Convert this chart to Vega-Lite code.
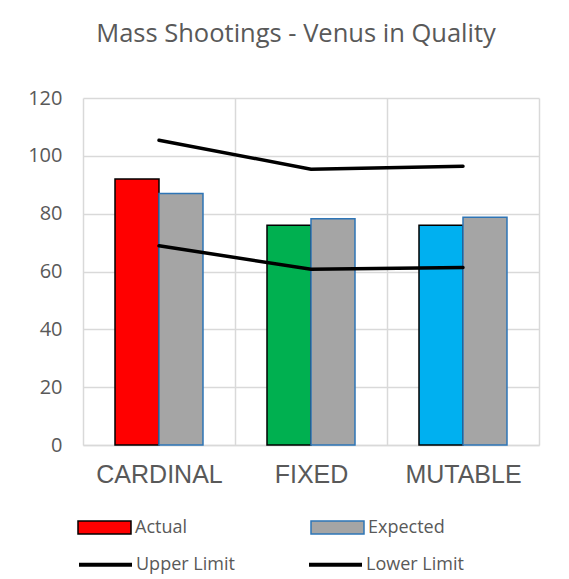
{
  "$schema": "https://vega.github.io/schema/vega-lite/v6.json",
  "autosize": {"type": "none"},
  "width": 456,
  "height": 347,
  "padding": {"left": 83, "top": 98, "right": 30, "bottom": 134},
  "background": "white",
  "title": {"text": "Mass Shootings - Venus in Quality", "font": "Open Sans", "fontSize": 25.5, "fontWeight": "normal", "color": "#595959", "anchor": "middle", "offset": 41, "dx": -15},
  "datasets": {
    "bars": [
      {"cat": "CARDINAL", "series": "Actual", "value": 92},
      {"cat": "CARDINAL", "series": "Expected", "value": 87},
      {"cat": "FIXED", "series": "Actual", "value": 76},
      {"cat": "FIXED", "series": "Expected", "value": 78.2},
      {"cat": "MUTABLE", "series": "Actual", "value": 76},
      {"cat": "MUTABLE", "series": "Expected", "value": 78.8}
    ],
    "limits": [
      {"cat": "CARDINAL", "limit": "Upper Limit", "value": 105.4},
      {"cat": "FIXED", "limit": "Upper Limit", "value": 95.4},
      {"cat": "MUTABLE", "limit": "Upper Limit", "value": 96.4},
      {"cat": "CARDINAL", "limit": "Lower Limit", "value": 68.9},
      {"cat": "FIXED", "limit": "Lower Limit", "value": 60.8},
      {"cat": "MUTABLE", "limit": "Lower Limit", "value": 61.4}
    ]
  },
  "layer": [
    {
      "data": {"name": "bars"},
      "mark": {"type": "bar", "strokeWidth": 1.5},
      "encoding": {
        "x": {
          "field": "cat", "type": "nominal", "sort": ["CARDINAL", "FIXED", "MUTABLE"],
          "scale": {"paddingInner": 0, "paddingOuter": 0},
          "axis": {"title": null, "labelAngle": 0, "labelFont": "Liberation Sans", "labelFontSize": 25, "labelColor": "#595959", "labelPadding": 17, "ticks": false, "tickBand": "extent", "grid": true, "gridColor": "#d9d9d9", "gridWidth": 1.5, "domainColor": "#d9d9d9", "domainWidth": 1.5}
        },
        "xOffset": {"field": "series", "type": "nominal", "sort": ["Actual", "Expected"], "scale": {"paddingInner": 0, "paddingOuter": 0.7273}},
        "y": {
          "field": "value", "type": "quantitative",
          "scale": {"domain": [0, 120], "nice": false},
          "axis": {"title": null, "values": [0, 20, 40, 60, 80, 100, 120], "labelFont": "Open Sans", "labelFontSize": 20, "labelColor": "#595959", "labelPadding": 21, "ticks": false, "domain": false, "grid": true, "gridColor": "#d9d9d9", "gridWidth": 1.5}
        },
        "fill": {
          "condition": [
            {"test": "datum.series === 'Actual' && datum.cat === 'FIXED'", "value": "#00B050"},
            {"test": "datum.series === 'Actual' && datum.cat === 'MUTABLE'", "value": "#00B0F0"}
          ],
          "field": "series", "type": "nominal",
          "scale": {"domain": ["Actual", "Expected"], "range": ["#FF0000", "#A5A5A5"]},
          "legend": {"title": null, "orient": "none", "legendX": -6, "legendY": 402, "direction": "horizontal", "columns": 2, "columnPadding": 120, "symbolType": "M-1,-0.245H1V0.245H-1Z", "symbolSize": 2809, "symbolStrokeWidth": 1.5, "symbolOpacity": 1, "labelOffset": 3, "labelFont": "Open Sans", "labelFontSize": 18, "labelColor": "#595959", "padding": 0}
        },
        "stroke": {
          "field": "series", "type": "nominal",
          "scale": {"domain": ["Actual", "Expected"], "range": ["#000000", "#2E75B6"]},
          "legend": {"title": null, "orient": "none", "legendX": -6, "legendY": 402, "direction": "horizontal", "columns": 2, "columnPadding": 120, "symbolType": "M-1,-0.245H1V0.245H-1Z", "symbolSize": 2809, "symbolStrokeWidth": 1.5, "symbolOpacity": 1, "labelOffset": 3, "labelFont": "Open Sans", "labelFontSize": 18, "labelColor": "#595959", "padding": 0}
        }
      }
    },
    {
      "data": {"name": "limits"},
      "mark": {"type": "line", "strokeWidth": 3.5, "strokeCap": "round"},
      "encoding": {
        "x": {"field": "cat", "type": "nominal", "sort": ["CARDINAL", "FIXED", "MUTABLE"]},
        "y": {"field": "value", "type": "quantitative"},
        "color": {
          "field": "limit", "type": "nominal",
          "scale": {"domain": ["Upper Limit", "Lower Limit"], "range": ["#000000", "#000000"]},
          "legend": {"title": null, "orient": "none", "legendX": -6, "legendY": 438, "direction": "horizontal", "columns": 2, "columnPadding": 66, "symbolType": "stroke", "symbolSize": 2809, "symbolStrokeWidth": 4, "labelOffset": 2, "labelFont": "Open Sans", "labelFontSize": 18, "labelColor": "#595959", "padding": 0}
        }
      }
    }
  ],
  "config": {"view": {"stroke": null}}
}
